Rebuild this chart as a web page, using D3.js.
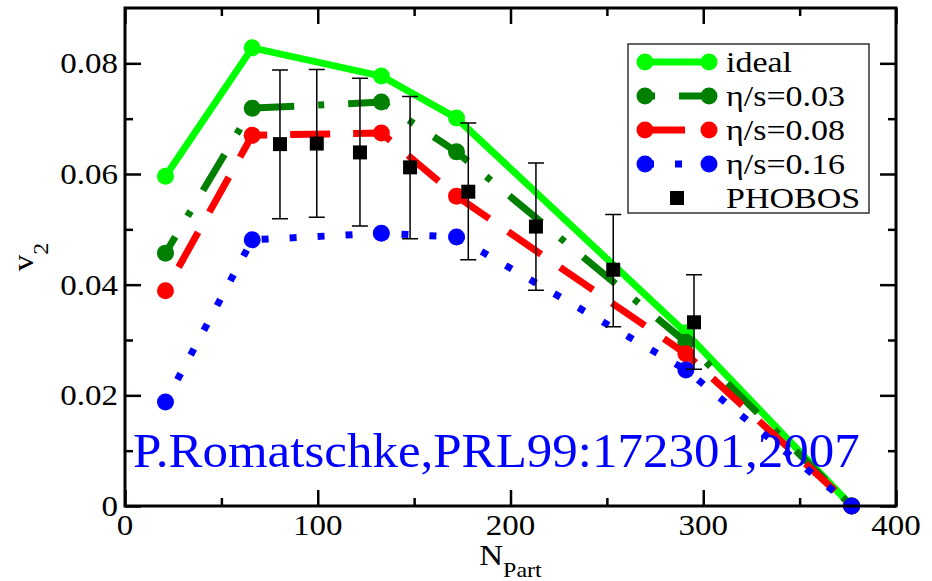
<!DOCTYPE html>
<html>
<head>
<meta charset="utf-8">
<script src="https://cdn.jsdelivr.net/npm/d3@7"></script>
<style>
  body { margin: 0; background: #fff; }
</style>
</head>
<body>
<svg id="chart" width="932" height="581"></svg>
<script>
// model curves (v2 vs N_part)
const nPart = [21, 66, 133, 172, 291, 377];
const v2Ideal = [0.0596, 0.0828, 0.0777, 0.0701, 0.0313, 0.0];
const v2Eta003 = [0.0457, 0.0719, 0.0730, 0.0640, 0.0296, 0.0];
const v2Eta008 = [0.0389, 0.0670, 0.0674, 0.0560, 0.0275, 0.0];
const v2Eta016 = [0.0188, 0.0481, 0.0493, 0.0486, 0.0246, 0.0];

// PHOBOS data with error bars
const phobosN = [80.4, 99.5, 121.9, 147.9, 178.1, 213.2, 253.3, 295.2];
const phobosV2 = [0.0654, 0.0655, 0.0639, 0.0612, 0.0568, 0.0505, 0.0427, 0.0332];
const phobosLo = [0.0519, 0.0522, 0.0506, 0.0483, 0.0445, 0.0390, 0.0324, 0.0247];
const phobosHi = [0.0788, 0.0789, 0.0773, 0.0740, 0.0692, 0.0620, 0.0527, 0.0418];

const seriesNames = ["ideal", "η/s=0.03", "η/s=0.08", "η/s=0.16"];
const xTicks = [0, 100, 200, 300, 400];
const xMinor = [50, 150, 250, 350];
const yTicks = [0, 0.02, 0.04, 0.06, 0.08];
const yMinor = [0.01, 0.03, 0.05, 0.07];

const pLeft = 125, pRight = 896, pTop = 8, pBottom = 506;
const SY = 0.87; // text in the picture is a bit squashed vertically
const FONT = "'Liberation Serif', Tinos, 'Times New Roman', 'DejaVu Serif', serif";

const svg = d3.select("#chart");

const x = d3.scaleLinear().domain([0, 400]).range([pLeft, pRight]);
const y = d3.scaleLinear().domain([0, 0.09]).range([pBottom, pTop]);

function label(parent, px, py, str, size, anchor, sy, color) {
  return parent.append("text")
    .attr("transform", `translate(${px},${py}) scale(1,${sy})`)
    .attr("text-anchor", anchor)
    .attr("font-family", FONT)
    .attr("font-size", size)
    .attr("fill", color || "#000")
    .text(str);
}

// series styles
const styles = [
  { color: "#00ff00", dash: null, offset: 0 },
  { color: "#008000", dash: "42,24,6,24", offset: 23 },
  { color: "#ff0000", dash: "40,23", offset: 36 },
  { color: "#0000ff", dash: "7,21", offset: 2.7 }
];
const allSeries = [v2Ideal, v2Eta003, v2Eta008, v2Eta016];

const line = d3.line().x(d => x(d[0])).y(d => y(d[1]));

allSeries.forEach((vals, i) => {
  const pts = nPart.map((n, j) => [n, vals[j]]);
  const st = styles[i];
  const g = svg.append("g");
  g.append("path")
    .attr("d", line(pts))
    .attr("fill", "none")
    .attr("stroke", st.color)
    .attr("stroke-width", 7)
    .attr("stroke-linejoin", "round")
    .attr("stroke-dasharray", st.dash)
    .attr("stroke-dashoffset", st.offset);
  g.selectAll("circle")
    .data(pts)
    .join("circle")
    .attr("cx", d => x(d[0]))
    .attr("cy", d => y(d[1]))
    .attr("r", 8.5)
    .attr("fill", st.color);
});

// PHOBOS error bars + squares
const ph = svg.append("g");
phobosN.forEach((n, i) => {
  const cx = x(n);
  ph.append("path")
    .attr("d", `M${cx},${y(phobosLo[i])}V${y(phobosHi[i])}M${cx - 8},${y(phobosHi[i])}h16M${cx - 8},${y(phobosLo[i])}h16`)
    .attr("stroke", "#000")
    .attr("stroke-width", 1.5)
    .attr("fill", "none");
  ph.append("rect")
    .attr("x", cx - 7).attr("y", y(phobosV2[i]) - 7)
    .attr("width", 14).attr("height", 14)
    .attr("fill", "#000");
});

// citation
label(svg, 133, 467, "P.Romatschke,PRL99:172301,2007", 51, "start", 0.94, "#0000ff");

// axes: ticks pointing inward on all four sides
function ticks(axis, tr, vals, size) {
  svg.append("g")
    .attr("transform", tr)
    .call(axis.tickValues(vals).tickSize(-size).tickFormat(""))
    .call(g => g.select(".domain").remove())
    .call(g => g.selectAll(".tick line").attr("stroke", "#000").attr("stroke-width", 2.5));
}
ticks(d3.axisBottom(x), `translate(0,${pBottom})`, xTicks, 16);
ticks(d3.axisBottom(x), `translate(0,${pBottom})`, xMinor, 8);
ticks(d3.axisTop(x), `translate(0,${pTop})`, xTicks, 16);
ticks(d3.axisTop(x), `translate(0,${pTop})`, xMinor, 8);
ticks(d3.axisLeft(y), `translate(${pLeft},0)`, yTicks, 16);
ticks(d3.axisLeft(y), `translate(${pLeft},0)`, yMinor, 8);
ticks(d3.axisRight(y), `translate(${pRight},0)`, yTicks, 16);
ticks(d3.axisRight(y), `translate(${pRight},0)`, yMinor, 8);

svg.append("rect")
  .attr("x", pLeft).attr("y", pTop)
  .attr("width", pRight - pLeft).attr("height", pBottom - pTop)
  .attr("fill", "none").attr("stroke", "#000").attr("stroke-width", 3);

// tick labels
xTicks.forEach(v => label(svg, x(v), 535, d3.format("d")(v), 33, "middle", SY));
yTicks.forEach(v => label(svg, 118, y(v) + 10, v === 0 ? "0" : d3.format(".2f")(v), 33, "end", SY));

// axis titles
const xt = label(svg, (pLeft + pRight) / 2, 565, "", 33, "middle", SY);
xt.append("tspan").text("N");
xt.append("tspan").attr("dy", 14).attr("font-size", 24).text("Part");

const yt = svg.append("text")
  .attr("transform", `translate(33,${(pTop + pBottom) / 2}) rotate(-90) scale(1,${SY})`)
  .attr("text-anchor", "middle")
  .attr("font-family", FONT)
  .attr("font-size", 33);
yt.append("tspan").text("v");
yt.append("tspan").attr("dy", 17).attr("font-size", 24).text("2");

// legend
const lg = svg.append("g");
lg.append("rect")
  .attr("x", 628).attr("y", 44).attr("width", 241).attr("height", 169)
  .attr("fill", "#fff").attr("stroke", "#333").attr("stroke-width", 1.5);

const legendOffsets = [0, 62, 0, 26];
seriesNames.forEach((name, i) => {
  const ry = 62 + i * 34;
  const st = styles[i];
  lg.append("line")
    .attr("x1", 645).attr("x2", 709).attr("y1", ry).attr("y2", ry)
    .attr("stroke", st.color).attr("stroke-width", 7)
    .attr("stroke-dasharray", st.dash)
    .attr("stroke-dashoffset", legendOffsets[i]);
  [645, 709].forEach(cx => lg.append("circle")
    .attr("cx", cx).attr("cy", ry).attr("r", 8.5).attr("fill", st.color));
  label(lg, 726, ry + 10, name, 34, "start", SY);
});
lg.append("rect")
  .attr("x", 670).attr("y", 62 + 4 * 34 - 7).attr("width", 14).attr("height", 14)
  .attr("fill", "#000");
label(lg, 726, 62 + 4 * 34 + 10, "PHOBOS", 34, "start", SY);
</script>
</body>
</html>
